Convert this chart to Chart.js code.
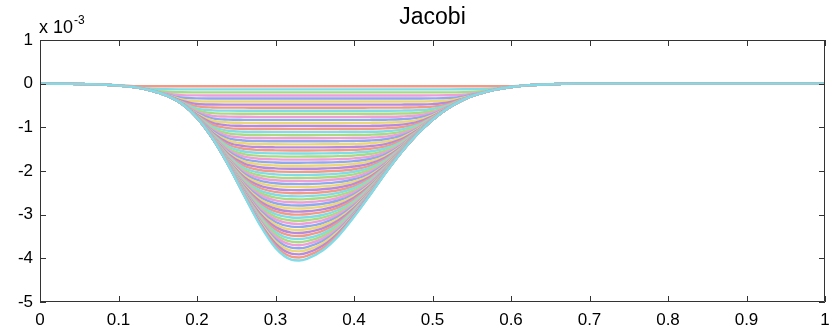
<!DOCTYPE html>
<html>
<head>
<meta charset="utf-8">
<script src="https://cdn.jsdelivr.net/npm/chart.js"></script>
<style>
  html, body { margin: 0; padding: 0; background: #fff; }
</style>
</head>
<body>
<canvas id="myChart" width="840" height="327"></canvas>
<script>
// x positions where the curves were read
var xs = [0, 0.02, 0.04, 0.06, 0.08, 0.10, 0.12, 0.14, 0.16, 0.18, 0.20, 0.22, 0.24, 0.26, 0.28, 0.30, 0.32, 0.33, 0.34,
          0.36, 0.38, 0.40, 0.42, 0.44, 0.46, 0.48, 0.50, 0.52, 0.54, 0.56, 0.58, 0.60, 0.62, 0.64, 0.66, 0.68, 0.70, 1.0];
// deepest (last) iterate, units of 1e-3
var envelope = [0, -0.002, -0.004, -0.01, -0.02, -0.045, -0.08, -0.15, -0.26, -0.45, -0.78, -1.26, -1.87, -2.56, -3.23, -3.76, -4.03, -4.05, -4.01,
                -3.82, -3.49, -3.05, -2.56, -2.05, -1.58, -1.17, -0.83, -0.56, -0.36, -0.23, -0.135, -0.077, -0.04, -0.02, -0.008, 0, 0, 0];
// depth at the centre of each iterate, first to last
var levels = [0.06, 0.13, 0.20, 0.27, 0.34, 0.41, 0.48, 0.55, 0.62, 0.69, 0.76, 0.83, 0.90, 0.97, 1.04, 1.11, 1.18, 1.25, 1.32, 1.39,
              1.46, 1.53, 1.60, 1.67, 1.74, 1.81, 1.88, 1.95, 2.02, 2.09, 2.16, 2.23, 2.30, 2.37, 2.44, 2.51, 2.58, 2.65, 2.72, 2.79,
              2.86, 2.93, 3.00, 3.07, 3.14, 3.21, 3.28, 3.35, 3.42, 3.49, 3.56, 3.63, 3.70, 3.77, 3.84, 3.91, 3.98, 4.05];
var xTicks = [0, 0.1, 0.2, 0.3, 0.4, 0.5, 0.6, 0.7, 0.8, 0.9, 1];
var yTicks = [1, 0, -1, -2, -3, -4, -5];
var colors = ['#f29a86', '#7fdce8', '#a9dc82', '#ef9fd6', '#8fa9f0', '#ecd775', '#b48be0'];

var FONT = '"Liberation Sans", Arial, sans-serif';
var deepest = Math.min.apply(null, envelope);

// each iterate follows the final profile on the flanks and levels off at its own depth
function iterate(lev) {
  var p = 4;
  var rest = Math.pow(lev, -p) - Math.pow(-deepest, -p);
  var capInv = rest > 1e-9 ? rest : 0;
  return xs.map(function (x, i) {
    var e = -envelope[i];
    if (e <= 0) return { x: x, y: 0 };
    return { x: x, y: -Math.pow(Math.pow(e, -p) + capInv, -1 / p) };
  });
}

// later iterates are drawn on top of earlier ones
var datasets = levels.map(function (lev, k) {
  return {
    data: iterate(lev),
    borderColor: colors[k % colors.length],
    borderWidth: 2.4,
    pointRadius: 0,
    fill: false,
    order: levels.length - k,
    cubicInterpolationMode: 'monotone'
  };
});

var frame = {
  id: 'frame',
  afterDatasetsDraw: function (chart) {
    var c = chart.ctx, a = chart.chartArea, sx = chart.scales.x, sy = chart.scales.y;
    c.save();
    c.strokeStyle = '#333';
    c.lineWidth = 1;
    c.beginPath();
    c.rect(a.left + 0.5, a.top + 0.5, a.right - a.left - 1, a.bottom - a.top - 1);
    xTicks.forEach(function (t) {
      var px = Math.round(sx.getPixelForValue(t)) + 0.5;
      c.moveTo(px, a.bottom); c.lineTo(px, a.bottom - 6);
      c.moveTo(px, a.top); c.lineTo(px, a.top + 6);
    });
    yTicks.forEach(function (t) {
      var py = Math.round(sy.getPixelForValue(t)) + 0.5;
      c.moveTo(a.left, py); c.lineTo(a.left + 6, py);
      c.moveTo(a.right, py); c.lineTo(a.right - 6, py);
    });
    c.stroke();

    c.fillStyle = '#000';
    c.textBaseline = 'alphabetic';
    c.textAlign = 'center';
    c.font = '23px ' + FONT;
    c.fillText('Jacobi', (a.left + a.right) / 2, 24);
    c.textAlign = 'left';
    c.font = '18px ' + FONT;
    c.fillText('x 10', 39, 33);
    var w = c.measureText('x 10').width;
    c.font = '12px ' + FONT;
    c.fillText('-3', 39 + w + 1, 24);
    c.restore();
  }
};

var ctx = document.getElementById('myChart');
var myChart = new Chart(ctx, {
  type: 'line',
  data: { datasets: datasets },
  options: {
    responsive: false,
    animation: false,
    devicePixelRatio: 1,
    layout: { padding: { top: 40, right: 15, left: 0, bottom: 0 } },
    plugins: { legend: { display: false }, tooltip: { enabled: false }, title: { display: false } },
    scales: {
      x: {
        type: 'linear', min: 0, max: 1,
        afterFit: function (s) { s.height = 25; },
        afterBuildTicks: function (s) { s.ticks = xTicks.map(function (v) { return { value: v }; }); },
        grid: { display: false, drawTicks: false },
        border: { display: false },
        ticks: { color: '#000', padding: 8, maxRotation: 0, autoSkip: false, font: { family: FONT, size: 17 },
                 callback: function (v) { return String(v); } }
      },
      y: {
        type: 'linear', min: -5, max: 1,
        afterFit: function (s) { s.width = 40; },
        afterBuildTicks: function (s) { s.ticks = yTicks.map(function (v) { return { value: v }; }); },
        grid: { display: false, drawTicks: false },
        border: { display: false },
        ticks: { color: '#000', padding: 7, autoSkip: false, font: { family: FONT, size: 17 },
                 callback: function (v) { return String(v); } }
      }
    }
  },
  plugins: [frame]
});
</script>
</body>
</html>
